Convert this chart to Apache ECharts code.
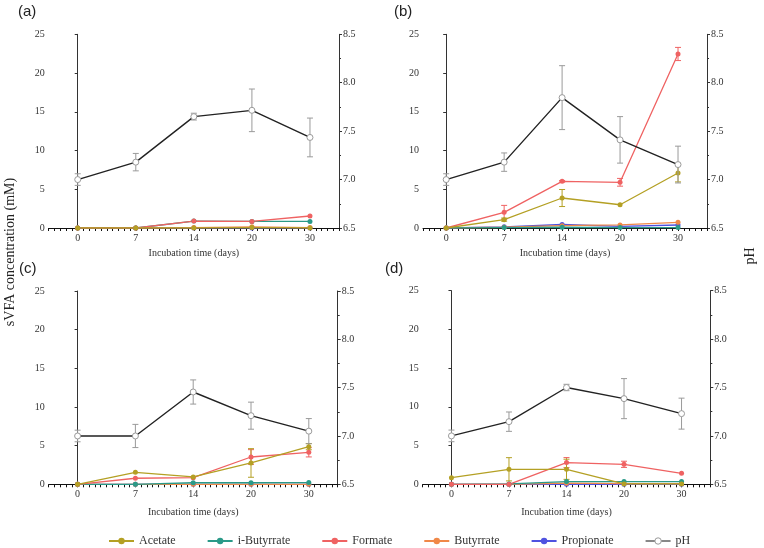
<!DOCTYPE html>
<html>
<head>
<meta charset="utf-8">
<script src="https://cdn.jsdelivr.net/npm/echarts@6/dist/echarts.min.js"></script>
<style>html,body{margin:0;padding:0;background:#fff;}#c{width:764px;height:548px;}</style>
</head>
<body>
<div id="c"></div>
<script>
// ---- data ----
const days = ['0', '7', '14', '20', '30'];
const panelLabels = ['(a)', '(b)', '(c)', '(d)'];
const seriesNames = ['Acetate', 'i-Butyrrate', 'Formate', 'Butyrrate', 'Propionate', 'pH'];
const vfaTicks = [0, 5, 10, 15, 20, 25];
const phTicks = [6.5, 7.0, 7.5, 8.0, 8.5];

// panel (a)
const acetateA = [0, 0, 0, 0.05, 0];
const acetateErrA = [0, 0, 0, 0, 0];
const iButA = [0, 0, 0.9, 0.85, 0.85];
const formateA = [0, 0, 0.9, 0.85, 1.55];
const formateErrA = [0, 0, 0, 0, 0];
const butA = [0, 0, 0.05, 0.15, 0.05];
const propA = [0, 0, 0, 0, 0];
const phA = [7.0, 7.18, 7.65, 7.715, 7.435];
const phErrA = [0.06, 0.09, 0.035, 0.22, 0.2];

// panel (b)
const acetateB = [0, 1.08, 3.87, 3.0, 7.1];
const acetateErrB = [0, 0.2, 1.1, 0, 1.15];
const iButB = [0, 0.05, 0.1, 0.05, 0.05];
const formateB = [0, 2.02, 6.02, 5.9, 22.46];
const formateErrB = [0, 0.9, 0.1, 0.5, 0.85];
const butB = [0, 0.1, 0.3, 0.4, 0.73];
const propB = [0, 0.15, 0.45, 0.2, 0.39];
const phB = [7.0, 7.18, 7.846, 7.41, 7.155];
const phErrB = [0.06, 0.095, 0.33, 0.24, 0.19];

// panel (c)
const acetateC = [0, 1.55, 0.95, 2.76, 4.87];
const acetateErrC = [0, 0, 0, 1.85, 0.4];
const iButC = [0, 0, 0.2, 0.2, 0.22];
const formateC = [0, 0.78, 0.86, 3.53, 4.14];
const formateErrC = [0, 0, 0, 0.95, 0.6];
const butC = [0, 0, 0, 0, 0];
const propC = [0, 0, 0, 0, 0];
const phC = [7.0, 7.0, 7.455, 7.21, 7.05];
const phErrC = [0.06, 0.12, 0.125, 0.14, 0.13];

// panel (d)
const acetateD = [0.86, 1.94, 1.94, 0.05, 0.05];
const acetateErrD = [0, 1.5, 1.3, 0, 0];
const iButD = [0, 0.05, 0.35, 0.35, 0.35];
const formateD = [0, 0, 2.8, 2.58, 1.42];
const formateErrD = [0, 0, 0.65, 0.4, 0];
const butD = [0, 0, 0.15, 0.1, 0.1];
const propD = [0, 0, 0, 0, 0];
const phD = [7.0, 7.147, 7.5, 7.385, 7.23];
const phErrD = [0.06, 0.1, 0.033, 0.207, 0.16];

// ---- layout / style ----
const colors = {
  'Acetate': '#b4a024',
  'i-Butyrrate': '#2a9a88',
  'Formate': '#ef6262',
  'Butyrrate': '#f08848',
  'Propionate': '#4f52e0',
  'pH': '#222222'
};
const phMarker = '#9a9a9a';
const grids = [
  { left: 48.7, top: 34.3, width: 290.3, height: 193.7 },
  { left: 423, top: 34.3, width: 284, height: 193.7 },
  { left: 48.7, top: 291, width: 289, height: 193.3 },
  { left: 422.7, top: 290.7, width: 287.6, height: 193.6 }
];
const xMins = [-0.5, -0.4, -0.5, -0.5];
const nameGaps = [20, 20, 23, 23];
const labelPos = [[18, 4], [394, 4], [19, 261], [385, 261]];

const panels = [
  { acetate: acetateA, acetateErr: acetateErrA, ibut: iButA, formate: formateA, formateErr: formateErrA, but: butA, prop: propA, ph: phA, phErr: phErrA },
  { acetate: acetateB, acetateErr: acetateErrB, ibut: iButB, formate: formateB, formateErr: formateErrB, but: butB, prop: propB, ph: phB, phErr: phErrB },
  { acetate: acetateC, acetateErr: acetateErrC, ibut: iButC, formate: formateC, formateErr: formateErrC, but: butC, prop: propC, ph: phC, phErr: phErrC },
  { acetate: acetateD, acetateErr: acetateErrD, ibut: iButD, formate: formateD, formateErr: formateErrD, but: butD, prop: propD, ph: phD, phErr: phErrD }
];

const serif = 'Liberation Serif';
const axisColor = '#333';

function errRender(color) {
  return function (params, api) {
    const x = api.value(0), y = api.value(1), e = api.value(2);
    if (!(e > 0)) return null;
    const p1 = api.coord([x, y + e]);
    const p2 = api.coord([x, y - e]);
    const hw = 3;
    const style = { stroke: color, lineWidth: 1 };
    return {
      type: 'group',
      children: [
        { type: 'line', shape: { x1: p1[0], y1: p1[1], x2: p2[0], y2: p2[1] }, style: style },
        { type: 'line', shape: { x1: p1[0] - hw, y1: p1[1], x2: p1[0] + hw, y2: p1[1] }, style: style },
        { type: 'line', shape: { x1: p2[0] - hw, y1: p2[1], x2: p2[0] + hw, y2: p2[1] }, style: style }
      ]
    };
  };
}

const xAxes = [], yAxes = [], series = [];
grids.forEach(function (g, p) {
  xAxes.push({
    type: 'value', gridIndex: p, min: xMins[p], max: 4.5, interval: 0.1,
    name: 'Incubation time (days)', nameLocation: 'middle', nameGap: nameGaps[p],
    nameTextStyle: { fontFamily: serif, fontSize: 10, color: '#333' },
    axisLine: { show: true, onZero: false, lineStyle: { color: '#111', width: 1 } },
    axisTick: { show: true, length: 3, lineStyle: { color: '#111' } },
    splitLine: { show: false },
    axisLabel: {
      margin: 5, fontFamily: serif, fontSize: 10, color: '#333', showMinLabel: true, showMaxLabel: true,
      formatter: function (v) {
        const r = Math.round(v);
        if (Math.abs(v - r) < 1e-6 && r >= 0 && r < days.length) return days[r];
        return '';
      }
    }
  });
  yAxes.push({
    type: 'value', gridIndex: p, position: 'left', min: vfaTicks[0], max: vfaTicks[vfaTicks.length - 1], interval: 5,
    axisLine: { show: true, lineStyle: { color: axisColor } },
    axisTick: { show: true, length: 3, lineStyle: { color: axisColor } },
    splitLine: { show: false },
    axisLabel: { margin: 4, fontFamily: serif, fontSize: 10, color: '#333' }
  });
  yAxes.push({
    type: 'value', gridIndex: p, position: 'right', min: phTicks[0], max: phTicks[phTicks.length - 1], interval: 0.5,
    axisLine: { show: true, lineStyle: { color: axisColor } },
    axisTick: { show: true, length: 3, lineStyle: { color: axisColor } },
    minorTick: { show: true, splitNumber: 2, length: 2, lineStyle: { color: axisColor } },
    splitLine: { show: false }, minorSplitLine: { show: false },
    axisLabel: { margin: 4, fontFamily: serif, fontSize: 10, color: '#333', formatter: function (v) { return v.toFixed(1); } }
  });

  const d = panels[p];
  const vfa = [
    ['Acetate', d.acetate, d.acetateErr],
    ['i-Butyrrate', d.ibut, null],
    ['Formate', d.formate, d.formateErr],
    ['Butyrrate', d.but, null],
    ['Propionate', d.prop, null]
  ];
  const order = [4, 3, 1, 2, 0];
  order.forEach(function (k) {
    const item = vfa[k];
    const nm = item[0], vals = item[1], errs = item[2];
    if (errs) {
      series.push({
        type: 'custom', xAxisIndex: p, yAxisIndex: 2 * p, z: 1, silent: true,
        renderItem: errRender(colors[nm]),
        encode: { x: 0, y: 1 },
        data: vals.map(function (v, i) { return [i, v, errs[i]]; })
      });
    }
    series.push({
      name: nm, type: 'line', xAxisIndex: p, yAxisIndex: 2 * p, z: 2,
      symbol: 'circle', symbolSize: 5, showAllSymbol: true,
      lineStyle: { color: colors[nm], width: 1.3 },
      itemStyle: { color: colors[nm] },
      data: vals.map(function (v, i) { return [i, v]; })
    });
  });
  series.push({
    type: 'custom', xAxisIndex: p, yAxisIndex: 2 * p + 1, z: 3, silent: true,
    renderItem: errRender(phMarker),
    encode: { x: 0, y: 1 },
    data: d.ph.map(function (v, i) { return [i, v, d.phErr[i]]; })
  });
  series.push({
    name: 'pH', type: 'line', xAxisIndex: p, yAxisIndex: 2 * p + 1, z: 4,
    symbol: 'circle', symbolSize: 6, showAllSymbol: true,
    lineStyle: { color: colors['pH'], width: 1.4 },
    itemStyle: { color: '#fff', borderColor: phMarker, borderWidth: 1 },
    data: d.ph.map(function (v, i) { return [i, v]; })
  });
});

const graphics = panelLabels.map(function (t, i) {
  return { type: 'text', left: labelPos[i][0], top: labelPos[i][1], style: { text: t, font: '15px "Liberation Sans"', fill: '#222' } };
});
graphics.push({
  type: 'text', x: 10, y: 252, rotation: Math.PI / 2,
  style: { text: 'sVFA concentration (mM)', font: '14px "Liberation Serif"', fill: '#222', align: 'center', verticalAlign: 'middle' }
});
graphics.push({
  type: 'text', x: 750, y: 256, rotation: Math.PI / 2,
  style: { text: 'pH', font: '14px "Liberation Serif"', fill: '#222', align: 'center', verticalAlign: 'middle' }
});

const legendData = seriesNames.map(function (n) {
  if (n === 'pH') return { name: n, itemStyle: { color: '#fff', borderColor: phMarker, borderWidth: 1 }, lineStyle: { color: '#888' } };
  return { name: n };
});

const chart = echarts.init(document.getElementById('c'), null, { renderer: 'canvas' });
chart.setOption({
  animation: false,
  backgroundColor: '#fff',
  grid: grids.map(function (g) { return Object.assign({ containLabel: false }, g); }),
  xAxis: xAxes,
  yAxis: yAxes,
  legend: {
    data: legendData, left: 108, top: 535, padding: 0, itemWidth: 25, itemHeight: 8, itemGap: 31,
    textStyle: { fontFamily: serif, fontSize: 12, color: '#333' }
  },
  graphic: graphics,
  series: series
});
</script>
</body>
</html>
